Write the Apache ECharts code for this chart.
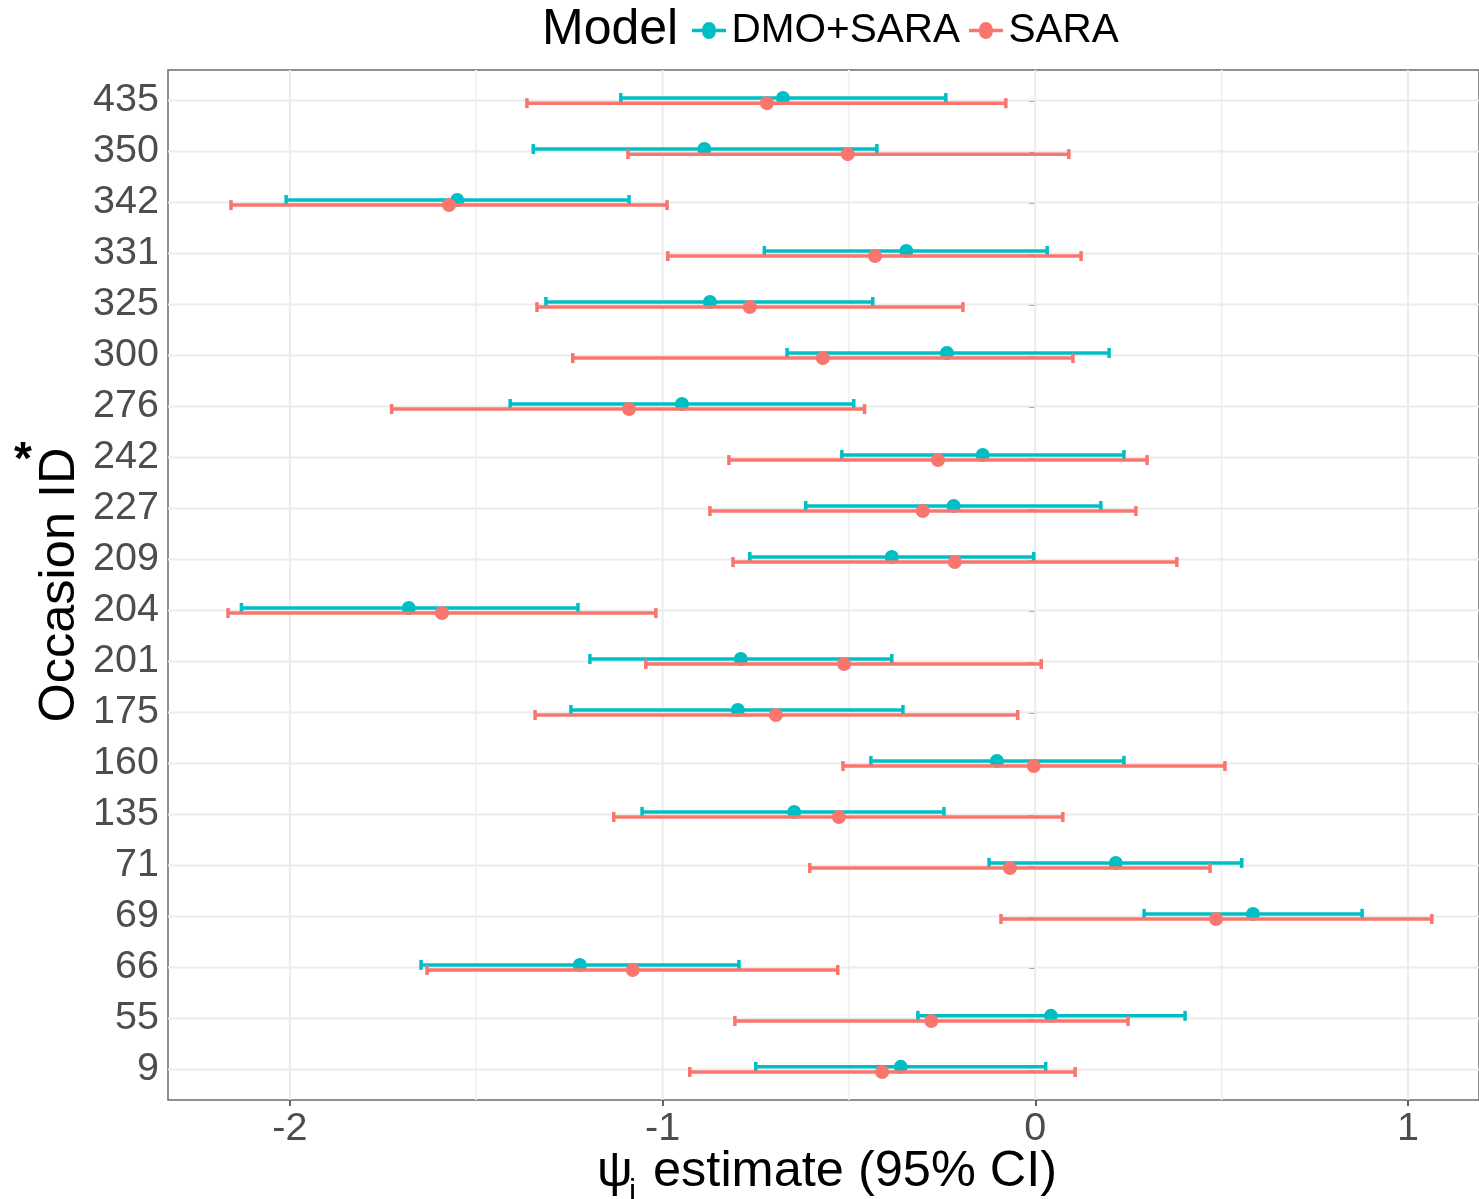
<!DOCTYPE html>
<html>
<head>
<meta charset="utf-8">
<script src="https://cdn.jsdelivr.net/npm/echarts@6/dist/echarts.min.js"></script>
<style>
html,body{margin:0;padding:0;background:#fff;}
#chart{width:1479px;height:1199px;}
</style>
</head>
<body>
<div id="chart"></div>
<script>
// Categories (bottom to top)
const categories = ['9','55','66','69','71','135','160','175','201','204','209','227','242','276','300','325','331','342','350','435'];

// DMO+SARA
const dmoEst = [-0.361, 0.042, -1.222, 0.584, 0.216, -0.647, -0.103, -0.798, -0.790, -1.681, -0.385, -0.219, -0.141, -0.948, -0.237, -0.873, -0.346, -1.551, -0.888, -0.677];
const dmoLo  = [-0.750, -0.315, -1.648, 0.292, -0.124, -1.055, -0.441, -1.246, -1.195, -2.130, -0.766, -0.616, -0.519, -1.409, -0.666, -1.313, -0.727, -2.010, -1.347, -1.112];
const dmoHi  = [0.028, 0.402, -0.795, 0.877, 0.554, -0.245, 0.238, -0.355, -0.385, -1.227, -0.004, 0.176, 0.238, -0.487, 0.198, -0.436, 0.032, -1.090, -0.425, -0.240];

// SARA
const saraEst = [-0.411, -0.279, -1.080, 0.485, -0.068, -0.527, -0.004, -0.696, -0.513, -1.592, -0.216, -0.302, -0.261, -1.090, -0.570, -0.766, -0.430, -1.573, -0.503, -0.720];
const saraLo  = [-0.927, -0.806, -1.632, -0.092, -0.605, -1.131, -0.516, -1.342, -1.045, -2.166, -0.811, -0.873, -0.822, -1.727, -1.241, -1.337, -0.986, -2.158, -1.093, -1.364];
const saraHi  = [0.107, 0.249, -0.530, 1.064, 0.469, 0.074, 0.509, -0.047, 0.016, -1.018, 0.380, 0.270, 0.300, -0.458, 0.101, -0.194, 0.123, -0.988, 0.090, -0.079];

// Tick values
const xTicks = [-2, -1, 0, 1];
const xMinor = [-1.5, -0.5, 0.5];
const yTicks = categories.map((c, i) => i + 1);

const seriesNames = ['DMO+SARA', 'SARA'];
const colors = ['#00BFC4', '#F8766D'];

const FONT = '"Liberation Sans", Arial, Helvetica, sans-serif';

function buildData(lo, est, hi) {
  return categories.map((c, i) => [lo[i], est[i], hi[i], i + 1]);
}

function makeRender(offsetFrac, color) {
  return function (params, api) {
    const y = api.value(3);
    const lo = api.coord([api.value(0), y]);
    const pt = api.coord([api.value(1), y]);
    const hi = api.coord([api.value(2), y]);
    const band = api.size([0, 1])[1];
    const yy = lo[1] + band * offsetFrac;
    const cap = 5;
    const lw = 3.5;
    return {
      type: 'group',
      children: [
        {type: 'line', shape: {x1: lo[0], y1: yy, x2: hi[0], y2: yy}, style: {stroke: color, lineWidth: lw}},
        {type: 'line', shape: {x1: lo[0], y1: yy - cap, x2: lo[0], y2: yy + cap}, style: {stroke: color, lineWidth: lw}},
        {type: 'line', shape: {x1: hi[0], y1: yy - cap, x2: hi[0], y2: yy + cap}, style: {stroke: color, lineWidth: lw}},
        {type: 'circle', shape: {cx: pt[0], cy: yy, r: 7}, style: {fill: color}}
      ]
    };
  };
}

// grid lines data: [x, y, kind] kind 0 = vertical major, 1 = vertical minor, 2 = horizontal
const gridData = []
  .concat(xTicks.map(v => [v, 1, 0]))
  .concat(xMinor.map(v => [v, 1, 1]))
  .concat(yTicks.map(v => [0, v, 2]));

function gridRender(params, api) {
  const cs = params.coordSys;
  const kind = api.value(2);
  const p = api.coord([api.value(0), api.value(1)]);
  if (kind === 2) {
    return {type: 'line', shape: {x1: cs.x, y1: p[1], x2: cs.x + cs.width, y2: p[1]}, style: {stroke: '#EBEBEB', lineWidth: 2}};
  }
  return {type: 'line', shape: {x1: p[0], y1: cs.y, x2: p[0], y2: cs.y + cs.height}, style: {stroke: kind === 0 ? '#EBEBEB' : '#F2F2F2', lineWidth: 2}};
}

const legendIcon = 'path://M0,4 L6,4 A4,4 0 0 1 14,4 L20,4 L20,6 L14,6 A4,4 0 0 1 6,6 L0,6 Z';

const chart = echarts.init(document.getElementById('chart'), null, {renderer: 'canvas'});
chart.setOption({
  animation: false,
  backgroundColor: '#ffffff',
  textStyle: {fontFamily: FONT},
  grid: {
    left: 168, top: 70, right: 0, bottom: 99,
    show: true, borderColor: '#6b6b6b', borderWidth: 1.5, backgroundColor: 'transparent',
    containLabel: false
  },
  legend: {
    left: 687, top: 5,
    data: seriesNames.map((n, i) => ({name: n, icon: legendIcon, itemStyle: {color: colors[i]}})),
    itemWidth: 35, itemHeight: 17, itemGap: 9,
    textStyle: {fontSize: 40.5, color: '#000', fontFamily: FONT, padding: [0, 0, 0, 0]}
  },
  xAxis: {
    type: 'value', min: -2.327, max: 1.1906,
    axisLine: {show: false},
    splitLine: {show: false},
    axisTick: {show: true, customValues: xTicks, length: 6, lineStyle: {color: '#333', width: 1.5}},
    axisLabel: {customValues: xTicks, fontSize: 39.5, color: '#4D4D4D', margin: 9, fontFamily: FONT,
      formatter: v => String(v)}
  },
  yAxis: {
    type: 'value', min: 0.4, max: 20.6,
    axisLine: {show: false},
    splitLine: {show: false},
    axisTick: {show: true, customValues: yTicks, length: 6, lineStyle: {color: '#333', width: 1.5}},
    axisLabel: {customValues: yTicks, fontSize: 39.5, color: '#4D4D4D', margin: 9, fontFamily: FONT,
      formatter: v => categories[Math.round(v) - 1] || ''}
  },
  graphic: [
    {type: 'text', left: 542, top: 5, style: {text: 'Model', font: '50px ' + FONT, fill: '#000'}},
    {type: 'text', x: 60, y: 585, rotation: Math.PI / 2,
      style: {text: 'Occasion ID', font: '50.5px ' + FONT, fill: '#000', align: 'center', verticalAlign: 'middle'}},
    {type: 'text', x: 23, y: 461, style: {text: '*', font: 'bold 46px ' + FONT, fill: '#000', align: 'center', verticalAlign: 'middle'}},
    {type: 'text', x: 597, y: 1172, style: {text: 'ψ', font: '50px ' + FONT, fill: '#000', align: 'left', verticalAlign: 'middle'}},
    {type: 'text', x: 629, y: 1192, style: {text: 'i', font: '32px ' + FONT, fill: '#000', align: 'left', verticalAlign: 'middle'}},
    {type: 'text', x: 639, y: 1172, style: {text: ' estimate (95% CI)', font: '50.5px ' + FONT, fill: '#000', align: 'left', verticalAlign: 'middle'}}
  ],
  series: [
    {type: 'custom', name: '_grid', silent: true, z: 1, renderItem: gridRender, data: gridData, clip: false},
    {type: 'custom', name: seriesNames[0], z: 3, color: colors[0], itemStyle: {color: colors[0]},
      renderItem: makeRender(-0.05, colors[0]), data: buildData(dmoLo, dmoEst, dmoHi), encode: {x: [0, 1, 2], y: 3}},
    {type: 'custom', name: seriesNames[1], z: 4, color: colors[1], itemStyle: {color: colors[1]},
      renderItem: makeRender(0.05, colors[1]), data: buildData(saraLo, saraEst, saraHi), encode: {x: [0, 1, 2], y: 3}}
  ]
});
</script>
</body>
</html>
